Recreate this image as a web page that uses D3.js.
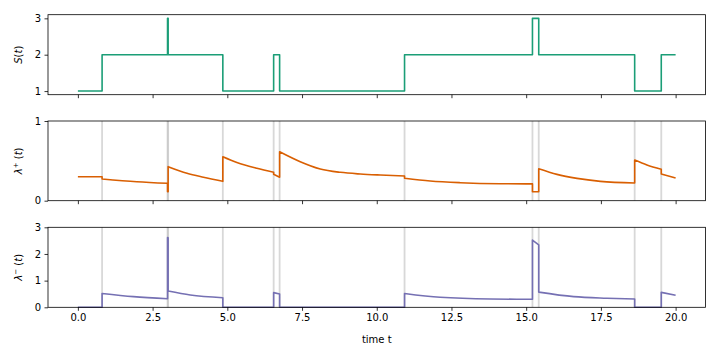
<!DOCTYPE html>
<html>
<head>
<meta charset="utf-8">
<script src="https://cdn.jsdelivr.net/npm/d3@7"></script>
<style>
  body { margin: 0; background: #fff; }
  text { font-family: "DejaVu Sans", sans-serif; }
</style>
</head>
<body>
<div id="chart"></div>
<script>
// event times (grey vertical markers)
var eventTimes = [0.81, 3.00, 3.02, 4.85, 6.55, 6.75, 10.93, 15.21, 15.42, 18.63, 19.52];

// S(t) step function: value holds from this time to the next
var sTimes  = [0, 0.81, 3.00, 3.02, 4.85, 6.55, 6.75, 10.93, 15.21, 15.42, 18.63, 19.52, 20];
var sValues = [1, 2,    3,    2,    1,    2,    1,    2,     3,     2,     1,     2,     2];

// lambda+ (repeated time = jump)
var lamPlusTimes  = [0, 0.81, 0.81, 1.97, 3.00, 3.00, 3.02, 3.02, 3.65, 4.20, 4.85, 4.85, 5.32, 5.99, 6.55, 6.55, 6.75, 6.75,
                     7.44, 8.11, 8.78, 9.45, 10.12, 10.93, 10.93, 11.79, 12.79, 14.13, 15.21, 15.21, 15.42, 15.42,
                     16.03, 16.70, 17.48, 18.63, 18.63, 19.04, 19.52, 19.52, 20];
var lamPlusValues = [0.30, 0.30, 0.272, 0.238, 0.218, 0.113, 0.113, 0.427, 0.344, 0.294, 0.243, 0.552, 0.48, 0.406, 0.356, 0.331, 0.294, 0.615,
                     0.49, 0.398, 0.356, 0.335, 0.322, 0.31, 0.281, 0.247, 0.226, 0.213, 0.211, 0.113, 0.113, 0.40,
                     0.33, 0.28, 0.243, 0.222, 0.51, 0.448, 0.394, 0.335, 0.285];

// lambda-
var lamMinusTimes  = [0, 0.81, 0.81, 1.86, 3.00, 3.00, 3.02, 3.02, 3.76, 4.85, 4.85, 6.55, 6.55, 6.75, 6.75,
                      10.93, 10.93, 12.12, 13.80, 15.21, 15.21, 15.42, 15.42, 16.59, 17.70, 18.63, 18.63, 19.52, 19.52, 20];
var lamMinusValues = [0, 0, 0.52, 0.40, 0.32, 2.62, 2.60, 0.61, 0.46, 0.36, 0, 0, 0.55, 0.50, 0,
                      0, 0.52, 0.375, 0.31, 0.30, 2.52, 2.34, 0.57, 0.40, 0.34, 0.31, 0, 0, 0.56, 0.45];

var xTicks = [0, 2.5, 5, 7.5, 10, 12.5, 15, 17.5, 20];

var width = 720, height = 360;
var svg = d3.select("#chart").append("svg")
  .attr("width", width)
  .attr("height", height)
  .style("background", "#fff");

var x = d3.scaleLinear().domain([-1, 21]).range([48, 705.5]);

var panels = [
  { top: 14.7, bottom: 94.7, domain: [0.9, 3.1], ticks: [1, 2, 3], label: "S", sup: null, color: "#1b9e77",
    t: sTimes, v: sValues, step: true, events: false },
  { top: 121, bottom: 200.7, domain: [0, 1], ticks: [0, 1], label: "λ", sup: "+", color: "#d95f02",
    t: lamPlusTimes, v: lamPlusValues, step: false, events: true },
  { top: 227.3, bottom: 307.3, domain: [0, 3], ticks: [0, 1, 2, 3], label: "λ", sup: "−", color: "#7570b3",
    t: lamMinusTimes, v: lamMinusValues, step: false, events: true }
];

// smooth each continuous piece, join pieces with vertical jumps
function jumpPath(pts, xs, ys) {
  var pieces = [[pts[0]]];
  for (var k = 1; k < pts.length; k++) {
    if (pts[k][0] === pts[k - 1][0]) pieces.push([pts[k]]);
    else pieces[pieces.length - 1].push(pts[k]);
  }
  var gen = d3.line()
    .x(function(d){ return xs(d[0]); })
    .y(function(d){ return ys(d[1]); })
    .curve(d3.curveMonotoneX);
  return pieces.map(function(pc, j) {
    var d = gen(pc);
    return j === 0 ? d : "L" + d.slice(1);
  }).join("");
}

panels.forEach(function(p, i) {
  var y = d3.scaleLinear().domain(p.domain).range([p.bottom, p.top]);
  var g = svg.append("g");

  if (p.events) {
    g.selectAll("line.ev")
      .data(eventTimes)
      .enter()
      .append("line")
        .attr("class", "ev")
        .attr("x1", function(d){ return x(d); })
        .attr("x2", function(d){ return x(d); })
        .attr("y1", p.top)
        .attr("y2", p.bottom)
        .style("stroke", "#b8b8b8")
        .style("stroke-opacity", 0.55)
        .style("stroke-width", 1.8);
  }

  var pts = d3.zip(p.t, p.v);
  var d;
  if (p.step) {
    d = d3.line()
      .x(function(d){ return x(d[0]); })
      .y(function(d){ return y(d[1]); })
      .curve(d3.curveStepAfter)(pts);
  } else {
    d = jumpPath(pts, x, y);
  }

  g.append("path")
    .attr("d", d)
    .style("fill", "none")
    .style("stroke", p.color)
    .style("stroke-width", 1.6)
    .style("stroke-linejoin", "round");

  // frame
  g.append("rect")
    .attr("x", x.range()[0])
    .attr("y", p.top)
    .attr("width", x.range()[1] - x.range()[0])
    .attr("height", p.bottom - p.top)
    .style("fill", "none")
    .style("stroke", "#000")
    .style("stroke-width", 0.8);

  var xAxis = d3.axisBottom(x).tickValues(xTicks).tickSize(3.5).tickPadding(3.5)
    .tickFormat(i === 2 ? d3.format(".1f") : "");
  var gx = g.append("g").attr("transform", "translate(0," + p.bottom + ")").call(xAxis);

  var yAxis = d3.axisLeft(y).tickValues(p.ticks).tickSize(3.5).tickPadding(3.5).tickFormat(d3.format("d"));
  var gy = g.append("g").attr("transform", "translate(" + x.range()[0] + ",0)").call(yAxis);

  [gx, gy].forEach(function(a) {
    a.select(".domain").remove();
    a.selectAll(".tick line").style("stroke", "#000").style("stroke-width", 0.8);
    a.selectAll(".tick text").style("font-size", "10px").style("fill", "#000")
      .style("font-family", "'DejaVu Sans', sans-serif");
  });

  // y label
  var cy = (p.top + p.bottom) / 2;
  var lab = g.append("text")
    .attr("transform", "translate(22," + cy + ") rotate(-90)")
    .attr("text-anchor", "middle")
    .style("font-size", "10px")
    .style("fill", "#000");
  lab.append("tspan").style("font-style", "italic").text(p.label);
  if (p.sup) {
    lab.append("tspan").attr("dy", -4).style("font-size", "7px").text(p.sup);
    lab.append("tspan").attr("dy", 4).text(" (");
  } else {
    lab.append("tspan").text("(");
  }
  lab.append("tspan").style("font-style", "italic").text("t");
  lab.append("tspan").text(")");
});

svg.append("text")
  .attr("x", (x.range()[0] + x.range()[1]) / 2)
  .attr("y", 342.5)
  .attr("text-anchor", "middle")
  .style("font-size", "10px")
  .style("fill", "#000")
  .text("time t");
</script>
</body>
</html>
